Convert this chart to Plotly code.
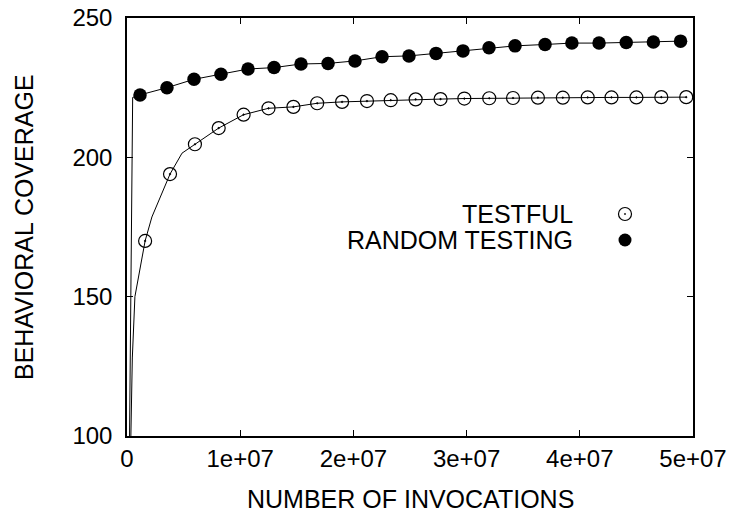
import plotly.graph_objects as go

# ---- data ----
# extra points of the TESTFUL curve between/before the marker points
testful_line_x = [0.25e6, 0.35e6, 0.47e6, 0.7e6, 1.06e6, 1.5e6, 2.2e6, 2.74e6, 4.86e6]
testful_line_y = [80, 100, 128, 150, 158, 166.8, 178.6, 184, 201.5]

testful_x = [1.6e6, 3.8e6, 6.0e6, 8.1e6, 10.3e6, 12.5e6, 14.7e6, 16.8e6, 19.0e6, 21.2e6,
             23.3e6, 25.5e6, 27.7e6, 29.8e6, 32.0e6, 34.1e6, 36.3e6, 38.5e6, 40.7e6,
             42.8e6, 45.0e6, 47.2e6, 49.4e6]
testful_y = [170, 194, 204.7, 210.5, 215.3, 217.6, 218.1, 219.4, 219.9, 220.2,
             220.5, 220.8, 220.9, 221.1, 221.2, 221.3, 221.4, 221.4, 221.5,
             221.5, 221.5, 221.6, 221.6]

# extra points of the RANDOM TESTING curve before the first marker
random_line_x = [0.0, 0.5e6]
random_line_y = [0.0, 221.5]

random_x = [1.15e6, 3.53e6, 5.92e6, 8.3e6, 10.69e6, 12.99e6, 15.37e6, 17.76e6, 20.14e6,
            22.53e6, 24.91e6, 27.3e6, 29.68e6, 31.98e6, 34.28e6, 36.93e6, 39.3e6,
            41.7e6, 44.1e6, 46.5e6, 48.9e6]
random_y = [222.4, 225.0, 228.0, 229.8, 231.7, 232.2, 233.5, 233.7, 234.6,
            236.1, 236.4, 237.3, 238.2, 239.3, 240.0, 240.5, 241.0,
            241.0, 241.2, 241.4, 241.7]

x_tickvals = [0, 1e7, 2e7, 3e7, 4e7, 5e7]
x_ticktext = ["0", "1e+07", "2e+07", "3e+07", "4e+07", "5e+07"]
y_tickvals = [100, 150, 200, 250]

series_names = ["TESTFUL", "RANDOM TESTING"]

FONT = "Liberation Sans, Arial, Helvetica, sans-serif"
FS_TICK = 24
FS = 25


def merged(xa, ya, xb, yb):
    pts = sorted(zip(xa + xb, ya + yb))
    return [p[0] for p in pts], [p[1] for p in pts]


fig = go.Figure()

tx, ty = merged(testful_line_x, testful_line_y, testful_x, testful_y)
rx, ry = merged(random_line_x, random_line_y, random_x, random_y)

# lines
fig.add_trace(go.Scatter(x=tx, y=ty, mode="lines", line=dict(color="black", width=1),
                         showlegend=False, hoverinfo="skip"))
fig.add_trace(go.Scatter(x=rx, y=ry, mode="lines", line=dict(color="black", width=1),
                         showlegend=False, hoverinfo="skip"))
# markers
fig.add_trace(go.Scatter(x=testful_x, y=testful_y, mode="markers", name=series_names[0],
                         marker=dict(symbol="circle-open-dot", size=13,
                                     color="black", line=dict(color="black", width=1.2)),
                         showlegend=False))
fig.add_trace(go.Scatter(x=random_x, y=random_y, mode="markers", name=series_names[1],
                         marker=dict(symbol="circle", size=13.5, color="black",
                                     line=dict(width=0)),
                         showlegend=False))

W, H = 734, 518
ML, MR, MT, MB = 127, 41, 18, 82
PW = W - ML - MR
PH = H - MT - MB


def px_to_paper_x(px):
    return (px - ML) / PW


def px_to_paper_y(py):
    return 1 - (py - MT) / PH


# legend (gnuplot style: right-justified text, symbol at right)
legend_rows = [214, 240]
annotations = []
for py, name in zip(legend_rows, series_names):
    annotations.append(dict(x=px_to_paper_x(575), y=px_to_paper_y(py), xref="paper", yref="paper",
                            text=name, showarrow=False, xanchor="right", yanchor="middle",
                            font=dict(family=FONT, size=FS, color="black")))

shapes = []
r = 6.5
cx, cy = 625, 214
shapes.append(dict(type="circle", xref="paper", yref="paper",
                   x0=px_to_paper_x(cx - r), x1=px_to_paper_x(cx + r),
                   y0=px_to_paper_y(cy + r), y1=px_to_paper_y(cy - r),
                   line=dict(color="black", width=1.2), fillcolor="rgba(0,0,0,0)"))
shapes.append(dict(type="circle", xref="paper", yref="paper",
                   x0=px_to_paper_x(cx - 0.7), x1=px_to_paper_x(cx + 0.7),
                   y0=px_to_paper_y(cy + 0.7), y1=px_to_paper_y(cy - 0.7),
                   line=dict(color="black", width=0.5), fillcolor="black"))
cx, cy = 625, 240
shapes.append(dict(type="circle", xref="paper", yref="paper",
                   x0=px_to_paper_x(cx - r), x1=px_to_paper_x(cx + r),
                   y0=px_to_paper_y(cy + r), y1=px_to_paper_y(cy - r),
                   line=dict(color="black", width=0), fillcolor="black"))

# axis titles
annotations.append(dict(x=0, y=0.5, xref="paper", yref="paper", xshift=-(ML - 24),
                        text="BEHAVIORAL COVERAGE", textangle=-90, showarrow=False,
                        xanchor="center", yanchor="middle",
                        font=dict(family=FONT, size=FS, color="black")))
annotations.append(dict(x=0.5, y=0, xref="paper", yref="paper", yshift=-63,
                        text="NUMBER OF INVOCATIONS", showarrow=False,
                        xanchor="center", yanchor="middle",
                        font=dict(family=FONT, size=FS, color="black")))

fig.update_layout(
    width=W, height=H,
    margin=dict(l=ML, r=MR, t=MT, b=MB, pad=0, autoexpand=False),
    paper_bgcolor="white", plot_bgcolor="white",
    font=dict(family=FONT, size=FS_TICK, color="black"),
    annotations=annotations, shapes=shapes,
    showlegend=False,
)
fig.update_xaxes(range=[0, 5e7], tickvals=x_tickvals, ticktext=x_ticktext,
                 showgrid=False, zeroline=False, showline=True, linecolor="black",
                 linewidth=1.5, mirror="ticks", ticks="inside", ticklen=6,
                 tickcolor="black", tickwidth=1, automargin=False,
                 tickfont=dict(family=FONT, size=FS_TICK))
fig.update_yaxes(range=[100, 250], tickvals=y_tickvals,
                 showgrid=False, zeroline=False, showline=True, linecolor="black",
                 linewidth=1.5, mirror="ticks", ticks="inside", ticklen=6,
                 tickcolor="black", tickwidth=1, automargin=False,
                 ticklabelstandoff=8,
                 tickfont=dict(family=FONT, size=FS_TICK))

fig.write_html("out.html")
